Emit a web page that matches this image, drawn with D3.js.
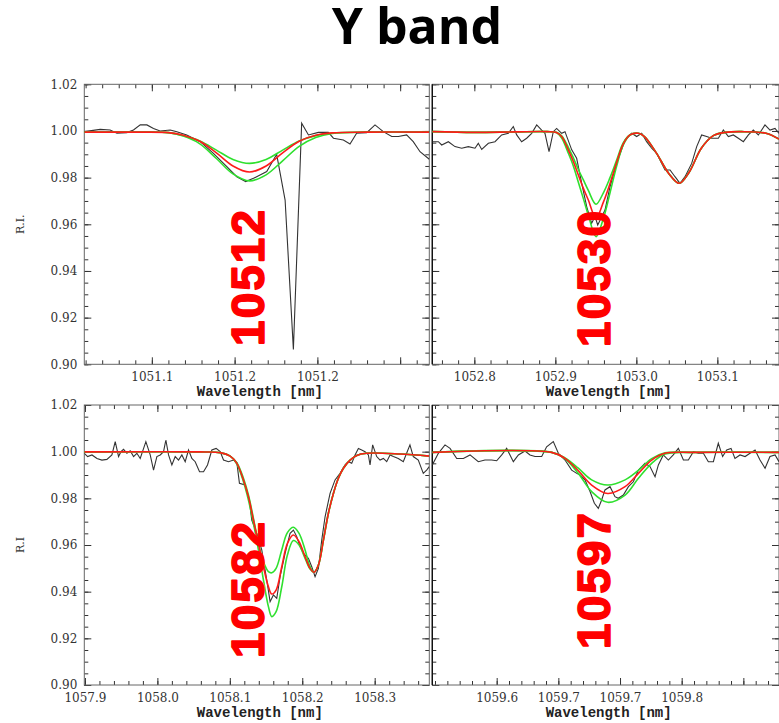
<!DOCTYPE html>
<html>
<head>
<meta charset="utf-8">
<script src="https://cdn.jsdelivr.net/npm/d3@7"></script>
<style>
    body { margin: 0; background: #fff; }
</style>
</head>
<body>
<div class="chart"></div>
<script>
// ---- data ----

// line names (big red labels)
var lineNames = ["10512", "10530", "10582", "10597"];

// y axis (relative intensity)
var yTicks = [0.90, 0.92, 0.94, 0.96, 0.98, 1.00, 1.02];

// x ticks and labels of each panel
var tlTicks = [1051.10, 1051.15, 1051.20, 1051.25];
var tlTickLabels = ["1051.1", "1051.2", "1051.2", ""];
var trTicks = [1052.8, 1052.9, 1053.0, 1053.1];
var trTickLabels = ["1052.8", "1052.9", "1053.0", "1053.1"];
var blTicks = [1057.9, 1058.0, 1058.1, 1058.2, 1058.3];
var blTickLabels = ["1057.9", "1058.0", "1058.1", "1058.2", "1058.3"];
var brTicks = [1059.60, 1059.65, 1059.70, 1059.75, 1059.80];
var brTickLabels = ["1059.6", "1059.7", "1059.7", "1059.8", ""];

// panel 10512 - observed
var tlWave = [1051.0592, 1051.0688, 1051.0748, 1051.0789, 1051.0849, 1051.0889, 1051.0930, 1051.0970, 1051.1010, 1051.1050,
    1051.1111, 1051.1151, 1051.1211, 1051.1292, 1051.1372, 1051.1453, 1051.1513, 1051.1567, 1051.1614, 1051.1694,
    1051.1754, 1051.1805, 1051.1855, 1051.1905, 1051.1946, 1051.2006, 1051.2066, 1051.2097, 1051.2157, 1051.2197,
    1051.2237, 1051.2298, 1051.2348, 1051.2398, 1051.2449, 1051.2489, 1051.2539, 1051.2579, 1051.2620, 1051.2676];
var tlObs = [0.9997, 1.0007, 1.0004, 0.9990, 0.9993, 1.0004, 1.0026, 1.0026, 1.0011, 1.0000,
    1.0004, 0.9997, 0.9983, 0.9954, 0.9904, 0.9847, 0.9804, 0.9783, 0.9797, 0.9826,
    0.9900, 0.9704, 0.9064, 1.0033, 0.9983, 0.9994, 0.9994, 0.9969, 0.9961, 0.9944,
    0.9990, 0.9993, 1.0026, 0.9997, 0.9976, 0.9976, 0.9983, 0.9954, 0.9911, 0.9879];
// panel 10512 - fits
var tlFitWave = [1051.0592, 1051.09, 1051.11, 1051.119, 1051.129, 1051.139, 1051.149, 1051.159, 1051.169, 1051.179,
    1051.189, 1051.199, 1051.209, 1051.23, 1051.2676];
var tlRed = [0.9995, 0.9995, 0.9993, 0.9982, 0.9956, 0.9906, 0.9850, 0.9824, 0.9850, 0.9906, 0.9956, 0.9982, 0.9992, 0.9995, 0.9995];
var tlGreenHi = [0.9995, 0.9995, 0.9993, 0.9980, 0.9957, 0.9918, 0.9878, 0.9861, 0.9878, 0.9918, 0.9957, 0.9980, 0.9991, 0.9995, 0.9995];
var tlGreenLo = [0.9995, 0.9995, 0.9993, 0.9978, 0.9945, 0.9882, 0.9816, 0.9786, 0.9812, 0.9872, 0.9934, 0.9972, 0.9989, 0.9995, 0.9995];

// panel 10530 - observed
var trWave = [1052.7481, 1052.7556, 1052.7597, 1052.7679, 1052.7761, 1052.7844, 1052.7926, 1052.8008, 1052.8049, 1052.8091,
    1052.8173, 1052.8255, 1052.8337, 1052.8420, 1052.8481, 1052.8523, 1052.8584, 1052.8646, 1052.8708, 1052.8770,
    1052.8831, 1052.8872, 1052.8922, 1052.8975, 1052.9016, 1052.9078, 1052.9119, 1052.9202, 1052.9263, 1052.9325,
    1052.9387, 1052.9448, 1052.9490, 1052.9523, 1052.9564, 1052.9613, 1052.9675, 1052.9757, 1052.9860, 1052.9942,
    1053.0004, 1053.0066, 1053.0127, 1053.0189, 1053.0251, 1053.0313, 1053.0354, 1053.0416, 1053.0477, 1053.0539,
    1053.0601, 1053.0683, 1053.0745, 1053.0806, 1053.0868, 1053.0930, 1053.1012, 1053.1074, 1053.1136, 1053.1197,
    1053.1259, 1053.1321, 1053.1383, 1053.1444, 1053.1506, 1053.1588, 1053.1650, 1053.1712, 1053.1761];
var trObs = [0.9954, 0.9954, 0.9940, 0.9954, 0.9933, 0.9926, 0.9933, 0.9926, 0.9947, 0.9921,
    0.9947, 0.9954, 0.9983, 0.9990, 1.0019, 0.9983, 0.9954, 0.9969, 0.9990, 1.0026,
    1.0004, 0.9990, 0.9911, 0.9997, 1.0011, 0.9990, 0.9997, 0.9919, 0.9883, 0.9776,
    0.9676, 0.9604, 0.9633, 0.9597, 0.9626, 0.9661, 0.9761, 0.9861, 0.9961, 0.9990,
    0.9976, 0.9990, 0.9954, 0.9926, 0.9904, 0.9861, 0.9833, 0.9833, 0.9804, 0.9776,
    0.9804, 0.9861, 0.9933, 0.9983, 0.9976, 0.9969, 0.9969, 1.0004, 0.9976, 0.9983,
    0.9969, 0.9954, 0.9983, 1.0004, 0.9983, 1.0026, 1.0004, 1.0011, 0.9990];
// panel 10530 - fits
var trFitWave = [1052.7481, 1052.80, 1052.85, 1052.89, 1052.9016, 1052.9078, 1052.916, 1052.9222, 1052.9284, 1052.9346,
    1052.9407, 1052.9502, 1052.9593, 1052.9675, 1052.9757, 1052.9839, 1052.9922, 1053.0025, 1053.01, 1053.025,
    1053.04, 1053.053, 1053.065, 1053.08, 1053.095, 1053.11, 1053.13, 1053.16, 1053.1761];
var trRed = [0.9997, 0.9994, 0.9996, 0.9997, 0.9993, 0.9976, 0.9919, 0.9869, 0.9811, 0.9754,
    0.9704, 0.9626, 0.9695, 0.9775, 0.9865, 0.9945, 0.9983, 0.9990, 0.9976, 0.9904,
    0.9818, 0.9776, 0.9822, 0.9925, 0.9980, 0.9994, 0.9997, 0.9990, 0.9965];
var trGreenHi = [0.9997, 0.9994, 0.9996, 0.9997, 0.9994, 0.9979, 0.9930, 0.9885, 0.9835, 0.9790,
    0.9745, 0.9686, 0.9735, 0.9800, 0.9875, 0.9950, 0.9984, 0.9990, 0.9976, 0.9904,
    0.9818, 0.9776, 0.9822, 0.9925, 0.9980, 0.9994, 0.9997, 0.9990, 0.9965];
var trGreenLo = [0.9997, 0.9994, 0.9996, 0.9997, 0.9992, 0.9970, 0.9905, 0.9850, 0.9780, 0.9710,
    0.9640, 0.9547, 0.9625, 0.9735, 0.9850, 0.9940, 0.9982, 0.9990, 0.9976, 0.9904,
    0.9818, 0.9776, 0.9822, 0.9925, 0.9980, 0.9994, 0.9997, 0.9990, 0.9965];

// panel 10582 - observed
var blWave = [1057.8991, 1057.9037, 1057.9097, 1057.9166, 1057.9234, 1057.9303, 1057.9372, 1057.9418, 1057.9464, 1057.9497,
    1057.9533, 1057.9579, 1057.9625, 1057.9671, 1057.9717, 1057.9763, 1057.9841, 1057.9901, 1057.9947, 1057.9993,
    1058.0039, 1058.0085, 1058.0117, 1058.0154, 1058.0200, 1058.0246, 1058.0292, 1058.0338, 1058.0384, 1058.0430,
    1058.0476, 1058.0522, 1058.0582, 1058.0637, 1058.0692, 1058.0752, 1058.0811, 1058.0867, 1058.0913, 1058.0982,
    1058.1051, 1058.1097, 1058.1133, 1058.1211, 1058.1271, 1058.1303, 1058.1372, 1058.1441, 1058.1510, 1058.1556,
    1058.1602, 1058.1648, 1058.1694, 1058.1763, 1058.1832, 1058.1878, 1058.1924, 1058.1970, 1058.2016, 1058.2085,
    1058.2131, 1058.2177, 1058.2223, 1058.2269, 1058.2315, 1058.2384, 1058.2453, 1058.2522, 1058.2591, 1058.2637,
    1058.2683, 1058.2729, 1058.2775, 1058.2821, 1058.2867, 1058.2913, 1058.2936, 1058.2972, 1058.3028, 1058.3074,
    1058.3120, 1058.3166, 1058.3212, 1058.3258, 1058.3326, 1058.3395, 1058.3441, 1058.3487, 1058.3533, 1058.3602,
    1058.3671, 1058.3717, 1058.3754];
var blObs = [0.9993, 0.9979, 0.9986, 0.9971, 0.9964, 0.9967, 0.9986, 1.0043, 0.9979, 1.0000,
    1.0010, 0.9993, 1.0004, 0.9979, 0.9993, 0.9971, 1.0043, 0.9986, 0.9921, 0.9979,
    0.9986, 1.0000, 1.0050, 0.9986, 0.9943, 0.9979, 0.9964, 0.9986, 0.9957, 1.0007,
    0.9971, 0.9957, 0.9914, 0.9914, 0.9943, 1.0007, 1.0014, 1.0000, 0.9964, 0.9957,
    0.9964, 0.9953, 0.9864, 0.9857, 0.9786, 0.9707, 0.9650, 0.9579, 0.9450, 0.9357,
    0.9386, 0.9371, 0.9464, 0.9564, 0.9650, 0.9664, 0.9636, 0.9593, 0.9564, 0.9543,
    0.9507, 0.9464, 0.9500, 0.9621, 0.9721, 0.9821, 0.9879, 0.9907, 0.9943, 0.9957,
    0.9950, 0.9986, 1.0014, 1.0007, 1.0000, 0.9986, 0.9943, 1.0029, 0.9979, 0.9964,
    0.9971, 0.9957, 0.9986, 0.9979, 0.9971, 0.9957, 0.9993, 1.0029, 0.9979, 0.9964,
    0.9907, 0.9921, 0.9936];
// panel 10582 - fits
var blFitWave = [1057.8991, 1058.0591, 1058.0867, 1058.1005, 1058.1097, 1058.1188, 1058.1257, 1058.1326, 1058.1395, 1058.1464,
    1058.1533, 1058.1579, 1058.1639, 1058.1717, 1058.1795, 1058.1878, 1058.1956, 1058.2039, 1058.2108, 1058.2163,
    1058.2223, 1058.2292, 1058.2361, 1058.2430, 1058.2499, 1058.2568, 1058.2660, 1058.2752, 1058.2890, 1058.3349, 1058.3754];
var blRed = [0.9999, 0.9999, 0.9996, 0.9981, 0.9950, 0.9879, 0.9807, 0.9707, 0.9607, 0.9507,
    0.9421, 0.9390, 0.9407, 0.9507, 0.9607, 0.9643, 0.9614, 0.9550, 0.9500, 0.9483,
    0.9514, 0.9621, 0.9736, 0.9821, 0.9886, 0.9929, 0.9964, 0.9984, 0.9993, 0.9990, 0.9981];
var blGreenHi = [0.9999, 0.9999, 0.9996, 0.9981, 0.9953, 0.9886, 0.9814, 0.9714, 0.9607, 0.9529,
    0.9486, 0.9481, 0.9500, 0.9579, 0.9653, 0.9676, 0.9650, 0.9579, 0.9507, 0.9483,
    0.9514, 0.9621, 0.9736, 0.9821, 0.9886, 0.9929, 0.9964, 0.9984, 0.9993, 0.9990, 0.9981];
var blGreenLo = [0.9999, 0.9999, 0.9996, 0.9981, 0.9947, 0.9871, 0.9793, 0.9693, 0.9579, 0.9450,
    0.9336, 0.9293, 0.9314, 0.9421, 0.9557, 0.9619, 0.9600, 0.9543, 0.9497, 0.9483,
    0.9514, 0.9621, 0.9736, 0.9821, 0.9886, 0.9929, 0.9964, 0.9984, 0.9993, 0.9990, 0.9981];

// panel 10597 - observed
var brWave = [1059.5478, 1059.5527, 1059.5581, 1059.5622, 1059.5676, 1059.5730, 1059.5784, 1059.5851, 1059.5905, 1059.5959,
    1059.6000, 1059.6041, 1059.6081, 1059.6135, 1059.6176, 1059.6230, 1059.6270, 1059.6311, 1059.6365, 1059.6405,
    1059.6459, 1059.6500, 1059.6554, 1059.6608, 1059.6649, 1059.6676, 1059.6716, 1059.6757, 1059.6792, 1059.6824,
    1059.6851, 1059.6878, 1059.6919, 1059.6959, 1059.6986, 1059.7027, 1059.7068, 1059.7108, 1059.7149, 1059.7203,
    1059.7243, 1059.7284, 1059.7311, 1059.7351, 1059.7392, 1059.7432, 1059.7473, 1059.7514, 1059.7554, 1059.7595,
    1059.7635, 1059.7676, 1059.7716, 1059.7757, 1059.7797, 1059.7832, 1059.7865, 1059.7900, 1059.7932, 1059.7973,
    1059.8014, 1059.8054, 1059.8095, 1059.8135, 1059.8176, 1059.8216, 1059.8257, 1059.8289];
var brObs = [0.9943, 0.9993, 1.0029, 1.0014, 0.9971, 0.9971, 0.9986, 0.9957, 0.9964, 0.9964,
    0.9961, 0.9986, 1.0014, 0.9957, 0.9986, 1.0003, 0.9986, 0.9979, 0.9979, 1.0021,
    1.0043, 0.9993, 0.9964, 0.9921, 0.9907, 0.9900, 0.9879, 0.9829, 0.9779, 0.9757,
    0.9793, 0.9836, 0.9850, 0.9807, 0.9800, 0.9814, 0.9850, 0.9871, 0.9921, 0.9950,
    0.9936, 0.9893, 0.9943, 0.9986, 0.9964, 0.9986, 1.0014, 0.9964, 0.9964, 1.0000,
    0.9993, 0.9993, 0.9957, 0.9957, 1.0036, 0.9979, 1.0007, 1.0014, 0.9971, 0.9986,
    0.9979, 0.9993, 1.0007, 0.9964, 0.9929, 0.9979, 0.9986, 0.9957];
// panel 10597 - fits
var brFitWave = [1059.5478, 1059.6446, 1059.6554, 1059.6662, 1059.6770, 1059.6900, 1059.7041, 1059.7149, 1059.7257, 1059.7365,
    1059.7600, 1059.8289];
var brRed = [0.9997, 0.9997, 0.9971, 0.9918, 0.9857, 0.9821, 0.9850, 0.9907, 0.9964, 0.9993, 0.9997, 0.9997];
var brGreenHi = [0.9997, 0.9997, 0.9973, 0.9929, 0.9879, 0.9857, 0.9879, 0.9920, 0.9970, 0.9995, 0.9997, 0.9997];
var brGreenLo = [0.9997, 0.9997, 0.9969, 0.9907, 0.9829, 0.9783, 0.9814, 0.9886, 0.9950, 0.9990, 0.9997, 0.9997];

// ---- layout ----
var svgWidth = 779;
var svgHeight = 723;

var svg = d3.select(".chart")
    .append("svg")
    .attr("width", svgWidth)
    .attr("height", svgHeight);

// title
svg.append("text")
    .attr("x", 417)
    .attr("y", 44)
    .attr("text-anchor", "middle")
    .style("font-family", "'Open Sans', sans-serif")
    .style("font-weight", "bold")
    .style("font-size", "50px")
    .text("Y band");

var panels = [
    { name: lineNames[0], wave: tlWave, obs: tlObs, fitWave: tlFitWave, red: tlRed, hi: tlGreenHi, lo: tlGreenLo,
      domain: [1051.0592, 1051.2676], ticks: tlTicks, labels: tlTickLabels, minor: 0.01,
      x0: 84.3, x1: 429.3, y0: 84.3, y1: 364.3, showY: true, yLabel: "R.I.", lx: 248, ly: 277 },
    { name: lineNames[1], wave: trWave, obs: trObs, fitWave: trFitWave, red: trRed, hi: trGreenHi, lo: trGreenLo,
      domain: [1052.7481, 1053.1761], ticks: trTicks, labels: trTickLabels, minor: 0.02,
      x0: 432.3, x1: 779, y0: 84.3, y1: 364.3, showY: false, lx: 594, ly: 278 },
    { name: lineNames[2], wave: blWave, obs: blObs, fitWave: blFitWave, red: blRed, hi: blGreenHi, lo: blGreenLo,
      domain: [1057.8991, 1058.3754], ticks: blTicks, labels: blTickLabels, minor: 0.02,
      x0: 84.3, x1: 429.3, y0: 405, y1: 685, showY: true, yLabel: "R.I", lx: 248, ly: 589 },
    { name: lineNames[3], wave: brWave, obs: brObs, fitWave: brFitWave, red: brRed, hi: brGreenHi, lo: brGreenLo,
      domain: [1059.5478, 1059.8289], ticks: brTicks, labels: brTickLabels, minor: 0.01,
      x0: 432.3, x1: 779, y0: 405, y1: 685, showY: false, lx: 594, ly: 580 }
];

// minor tick values between the domain ends
function minorTicks(domain, step) {
    var k0 = Math.ceil(domain[0] / step - 1e-6);
    var k1 = Math.floor(domain[1] / step + 1e-6);
    return d3.range(k0, k1 + 1).map(k => +(k * step).toFixed(4));
}

var yMinor = d3.range(180, 205).map(k => +(k * 0.005).toFixed(3));

function styleAxis(sel) {
    sel.select(".domain").remove();
    sel.selectAll("line").attr("stroke", "#333").attr("stroke-width", 1);
    sel.selectAll("text")
        .style("font-family", "'DejaVu Serif', serif")
        .style("font-size", "12px")
        .attr("fill", "#333");
}

panels.forEach(function (p, i) {
    var x = d3.scaleLinear().domain(p.domain).range([p.x0, p.x1]);
    var y = d3.scaleLinear().domain([0.90, 1.02]).range([p.y1, p.y0]);

    var g = svg.append("g");

    // clip for the curves
    g.append("clipPath")
        .attr("id", "clip" + i)
        .append("rect")
        .attr("x", p.x0)
        .attr("y", p.y0)
        .attr("width", p.x1 - p.x0)
        .attr("height", p.y1 - p.y0);

    // bottom axis
    g.append("g").attr("transform", `translate(0, ${p.y1})`)
        .call(d3.axisBottom(x).tickValues(minorTicks(p.domain, p.minor)).tickSize(-4).tickFormat(""))
        .call(styleAxis);
    g.append("g").attr("transform", `translate(0, ${p.y1})`)
        .call(d3.axisBottom(x).tickValues(p.ticks).tickSize(-7).tickPadding(8).tickFormat((d, j) => p.labels[j]))
        .call(styleAxis);

    // top axis
    g.append("g").attr("transform", `translate(0, ${p.y0})`)
        .call(d3.axisTop(x).tickValues(minorTicks(p.domain, p.minor)).tickSize(-4).tickFormat(""))
        .call(styleAxis);
    g.append("g").attr("transform", `translate(0, ${p.y0})`)
        .call(d3.axisTop(x).tickValues(p.ticks).tickSize(-7).tickFormat(""))
        .call(styleAxis);

    // left axis
    g.append("g").attr("transform", `translate(${p.x0}, 0)`)
        .call(d3.axisLeft(y).tickValues(yMinor).tickSize(-4).tickFormat(""))
        .call(styleAxis);
    g.append("g").attr("transform", `translate(${p.x0}, 0)`)
        .call(d3.axisLeft(y).tickValues(yTicks).tickSize(-7).tickPadding(7)
            .tickFormat(p.showY ? d3.format(".2f") : ""))
        .call(styleAxis);

    // right axis
    g.append("g").attr("transform", `translate(${p.x1}, 0)`)
        .call(d3.axisRight(y).tickValues(yMinor).tickSize(-4).tickFormat(""))
        .call(styleAxis);
    g.append("g").attr("transform", `translate(${p.x1}, 0)`)
        .call(d3.axisRight(y).tickValues(yTicks).tickSize(-7).tickFormat(""))
        .call(styleAxis);

    // frame
    g.append("rect")
        .attr("x", p.x0)
        .attr("y", p.y0)
        .attr("width", p.x1 - p.x0)
        .attr("height", p.y1 - p.y0)
        .attr("fill", "none")
        .attr("stroke", "#666")
        .attr("stroke-width", 1);
    if (!p.showY) {
        g.append("line")
            .attr("x1", p.x0).attr("x2", p.x0)
            .attr("y1", p.y0).attr("y2", p.y1)
            .attr("stroke", "#111")
            .attr("stroke-width", 1.4);
    }

    // axis titles
    g.append("text")
        .attr("x", (p.x0 + p.x1) / 2 + 3)
        .attr("y", p.y1 + 31.5)
        .attr("text-anchor", "middle")
        .style("font-family", "'Liberation Mono', monospace")
        .style("font-weight", "bold")
        .style("font-size", "14px")
        .attr("fill", "#222")
        .text("Wavelength [nm]");

    if (p.showY) {
        g.append("text")
            .attr("transform", `translate(24, ${(p.y0 + p.y1) / 2}) rotate(-90)`)
            .attr("text-anchor", "middle")
            .style("font-family", "'DejaVu Serif', serif")
            .style("font-size", "11px")
            .attr("fill", "#333")
            .text(p.yLabel);
    }

    // curves
    var plot = g.append("g").attr("clip-path", `url(#clip${i})`);

    var obsLine = d3.line()
        .x((d, j) => x(p.wave[j]))
        .y(d => y(d));
    var fitLine = d3.line()
        .x((d, j) => x(p.fitWave[j]))
        .y(d => y(d))
        .curve(d3.curveCatmullRom);

    plot.append("path")
        .attr("d", obsLine(p.obs))
        .attr("fill", "none")
        .attr("stroke", "#333")
        .attr("stroke-width", 1.1);

    plot.append("path")
        .attr("d", fitLine(p.hi))
        .attr("fill", "none")
        .attr("stroke", "#2fe02f")
        .attr("stroke-width", 1.6);

    plot.append("path")
        .attr("d", fitLine(p.lo))
        .attr("fill", "none")
        .attr("stroke", "#2fe02f")
        .attr("stroke-width", 1.6);

    plot.append("path")
        .attr("d", fitLine(p.red))
        .attr("fill", "none")
        .attr("stroke", "#ff1a1a")
        .attr("stroke-width", 1.6);

    // big red line label
    svg.append("text")
        .attr("transform", `translate(${p.lx}, ${p.ly}) rotate(-90)`)
        .attr("text-anchor", "middle")
        .attr("dominant-baseline", "central")
        .style("font-family", "'Liberation Sans', Arial, sans-serif")
        .style("font-weight", "bold")
        .style("font-size", "46px")
        .style("letter-spacing", "2px")
        .attr("fill", "#ff0000")
        .attr("stroke", "#ff0000")
        .attr("stroke-width", 1.6)
        .attr("stroke-linejoin", "round")
        .text(p.name);
});
</script>
</body>
</html>
